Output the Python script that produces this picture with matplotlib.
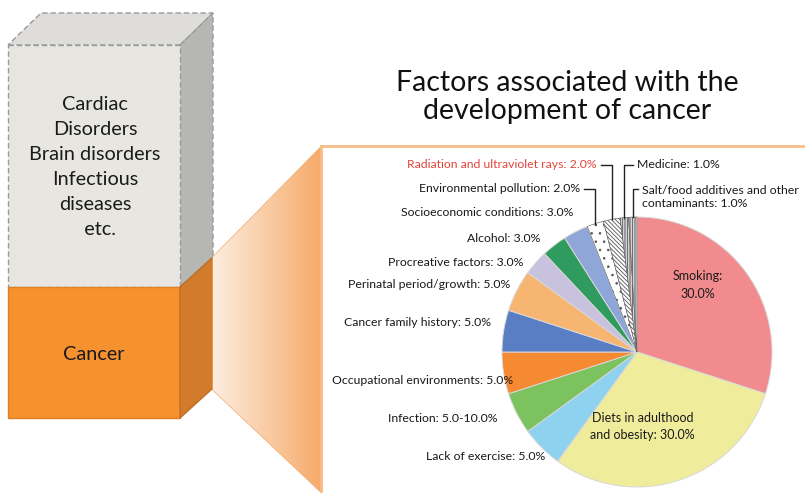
import numpy as np
import matplotlib.pyplot as plt
from matplotlib.colors import LinearSegmentedColormap
from matplotlib.patches import Polygon, Rectangle

plt.rcParams['font.family'] = ['Lato', 'DejaVu Sans']
plt.rcParams['hatch.linewidth'] = 0.6

# Данные: факторы и их доли (%)
factors = ['Smoking', 'Diets in adulthood\nand obesity', 'Lack of exercise', 'Infection',
           'Occupational environments', 'Cancer family history', 'Perinatal period/growth',
           'Procreative factors', 'Alcohol', 'Socioeconomic conditions',
           'Environmental pollution', 'Radiation and ultraviolet rays', 'Medicine',
           'Salt/food additives and other\ncontaminants']
shares = [30, 30, 5, 5, 5, 5, 5, 3, 3, 3, 2, 2, 1, 1]
share_text = ['30.0%', '30.0%', '5.0%', '5.0-10.0%', '5.0%', '5.0%', '5.0%',
              '3.0%', '3.0%', '3.0%', '2.0%', '2.0%', '1.0%', '1.0%']
colors = ['#F28B8E', '#EFEC9B', '#8ED2F0', '#7CC25E', '#F58A32', '#5A7EC4', '#F6B672',
          '#C9C2DF', '#2F9B5E', '#8EA6D8', 'white', 'white', 'white', 'white']
hatches = [None] * 10 + ['..', '\\\\\\\\\\\\\\\\', '||||||||||', '||||||||||']

other_diseases = ['Cardiac', 'Disorders', 'Brain disorders', 'Infectious', 'diseases', '  etc.']

# Позиции подписей (пиксели): x, y, выравнивание
label_pos = [None, None,
             (545, 457, 'right'), (497, 418, 'right'), (513, 380, 'right'),
             (491, 322, 'right'), (510, 284, 'right'), (523, 263, 'right'),
             (540, 238, 'right'), (573, 213, 'right'), (580, 189, 'right'),
             (597, 165, 'right'), (637, 165, 'left'), (642, 197, 'left')]

W, H = 805, 493
fig = plt.figure(figsize=(W / 100, H / 100), dpi=100)
bg = fig.add_axes([0, 0, 1, 1])
bg.set_xlim(0, W)
bg.set_ylim(H, 0)
bg.axis('off')

# Коробка
gray_edge = dict(edgecolor='#9A9A9A', linestyle=(0, (4, 2)), linewidth=1)
bg.add_patch(Polygon([(8, 45), (180, 45), (213, 13), (41, 13)], closed=True,
                     facecolor='#DEDDD9', **gray_edge))
bg.add_patch(Polygon([(180, 45), (213, 13), (213, 257), (180, 287)], closed=True,
                     facecolor='#B6B6B3', **gray_edge))
bg.add_patch(Polygon([(8, 45), (180, 45), (180, 287), (8, 287)], closed=True,
                     facecolor='#E7E6E1', **gray_edge))
bg.add_patch(Polygon([(8, 287), (180, 287), (180, 418), (8, 418)], closed=True,
                     facecolor='#F5912E', edgecolor='#E07F25', linewidth=1))
bg.add_patch(Polygon([(180, 287), (213, 257), (213, 388), (180, 418)], closed=True,
                     facecolor='#D27B2C', edgecolor='#C06E24', linewidth=1))
bg.text(95, 167, '\n'.join(other_diseases), ha='center', va='center', fontsize=14.3,
        linespacing=1.56, color='#1a1a1a')
bg.text(94, 355, 'Cancer', ha='center', va='center', fontsize=14.3, color='#1a1a1a')

# Трапеция с градиентом
trap = Polygon([(213, 257), (322, 146), (322, 493), (213, 390)], closed=True,
               facecolor='none', edgecolor='#F2A868', linewidth=1)
bg.add_patch(trap)
grad = np.linspace(0, 1, 256)[None, :]
img = bg.imshow(grad, extent=(213, 322, 493, 146),
                cmap=LinearSegmentedColormap.from_list('g', ['#FDEDE0', '#F6AA68']),
                aspect='auto', zorder=1)
img.set_clip_path(trap)
bg.set_xlim(0, W)
bg.set_ylim(H, 0)

# Панель
bg.add_patch(Rectangle((321, 146), 500, 360, facecolor='white', edgecolor='#F6BD88',
                       linewidth=2, zorder=2))

bg.text(567, 97, 'Factors associated with the\ndevelopment of cancer', ha='center',
        va='center', fontsize=20.5, linespacing=1.05, color='#111111')

# Круговая диаграмма
cx, cy, r = 637, 352, 135
ax = fig.add_axes([(cx - r) / W, (H - cy - r) / H, 2 * r / W, 2 * r / H])
ax.set_facecolor('none')
wedges, _ = ax.pie(shares, colors=colors, startangle=90, counterclock=False,
                   wedgeprops=dict(edgecolor='#D8D8D8', linewidth=0.7))
for w, h in zip(wedges, hatches):
    if h:
        w.set_hatch(h)
        w.set_edgecolor('#555555')
        w.set_linewidth(0.4)
ax.set_xlim(-1, 1)
ax.set_ylim(-1, 1)
ax.set_aspect('equal')
ax.axis('off')

ax.text(0.45, 0.5, 'Smoking:\n30.0%', ha='center', va='center', fontsize=9, linespacing=1.6,
        color='#1a1a1a')
ax.text(0.04, -0.55, factors[1] + ': ' + share_text[1], ha='center', va='center',
        fontsize=9, linespacing=1.5, color='#1a1a1a')

to_bg = bg.transData.inverted()
for i, w in enumerate(wedges):
    if label_pos[i] is None:
        continue
    x, y, ha = label_pos[i]
    color = '#E0463C' if i == 11 else '#1a1a1a'
    ax.text(x, y, factors[i] + ': ' + share_text[i], ha=ha, va='center', fontsize=8.8,
            color=color, zorder=5, linespacing=1.3, transform=bg.transData, clip_on=False)
    if i >= 10:
        mid = np.deg2rad((w.theta1 + w.theta2) / 2)
        px, py = to_bg.transform(ax.transData.transform((np.cos(mid), np.sin(mid))))
        ly = y if i != 13 else y - 8
        x0 = x + 4 if ha == 'right' else x - 4
        ax.plot([x0, px, px], [ly, ly, py], color='#222222', lw=1, zorder=5,
                transform=bg.transData, clip_on=False)

fig.savefig('out.png', dpi=100)
